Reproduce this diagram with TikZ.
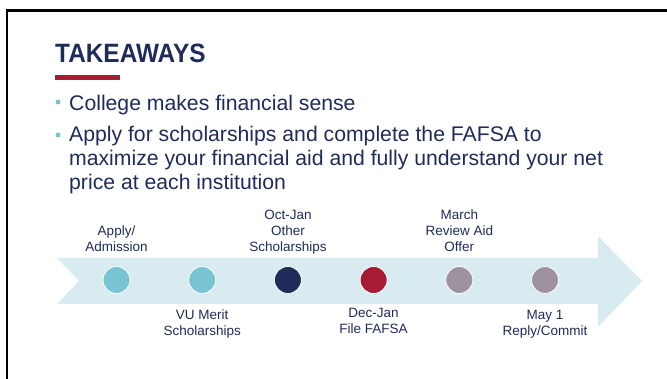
\documentclass[tikz,border=0pt]{standalone}
\usepackage{fontspec}
\setmainfont{Liberation Sans}
\newfontfamily\titlefont{Liberation Sans}[FakeStretch=0.92]
\usepackage{xcolor}
\usetikzlibrary{positioning}

\definecolor{navy}{HTML}{1F2B5B}
\definecolor{vured}{HTML}{A61C34}
\definecolor{skyline}{HTML}{D8EBF0}
\definecolor{teal}{HTML}{78C4D5}
\definecolor{mauve}{HTML}{9E929F}

\tikzset{
  dot/.style={circle,draw=white,line width=0.8pt,minimum size=27pt,inner sep=0pt},
  lbl/.style={text=navy,font=\fontsize{13.5}{16}\selectfont,align=center,inner sep=0pt,anchor=base},
  point/.style={text=navy,font=\fontsize{21.2}{24}\selectfont,align=left,inner sep=0pt,anchor=base west},
}

\begin{document}
\begin{tikzpicture}[x=1pt,y=1pt]
	 \useasboundingbox (0,0) rectangle (667,379);
	 \draw[line width=2.5pt] (7,-5) -- (7,368.5) -- (680,368.5);
	 \node[text=navy,font=\titlefont\bfseries\fontsize{26.5}{30}\selectfont,inner sep=0pt,anchor=base west] (title) at (55,316) {TAKEAWAYS};
	 \fill[vured] (55,299) rectangle (120,303.5);
	 \fill[teal] (58,277) circle (2.5);
	 \fill[teal] (58,244) circle (2.5);
	 \node[point] (p1) at (69,268) {College makes financial sense};
	 \node[point] (p2) at (69,189) {Apply for scholarships and complete the FAFSA to\\maximize your financial aid and fully understand your net\\price at each institution};
	 \fill[skyline] (57,121) -- (598,121) -- (598,143) -- (642,98) -- (598,52) -- (598,75) -- (57,75) -- (79,98) -- cycle;
	 \foreach \c [count=\i] in {teal,teal,navy,vured,mauve,mauve}
	   \node[dot,fill=\c] (d\i) at ({116.5+85.7*(\i-1)},99) {};
	 \node[lbl] (apply) at ([yshift=28pt]d1.center) {Apply/\\Admission};
	 \node[lbl] (merit) at ([yshift=-56pt]d2.center) {VU Merit\\Scholarships};
	 \node[lbl] (other) at ([yshift=28pt]d3.center) {Oct-Jan\\Other\\Scholarships};
	 \node[lbl] (fafsa) at ([yshift=-54pt]d4.center) {Dec-Jan\\File FAFSA};
	 \node[lbl] (review) at ([yshift=28pt]d5.center) {March\\Review Aid\\Offer};
	 \node[lbl] (reply) at ([yshift=-56pt]d6.center) {May 1\\Reply/Commit};
\end{tikzpicture}
\end{document}
